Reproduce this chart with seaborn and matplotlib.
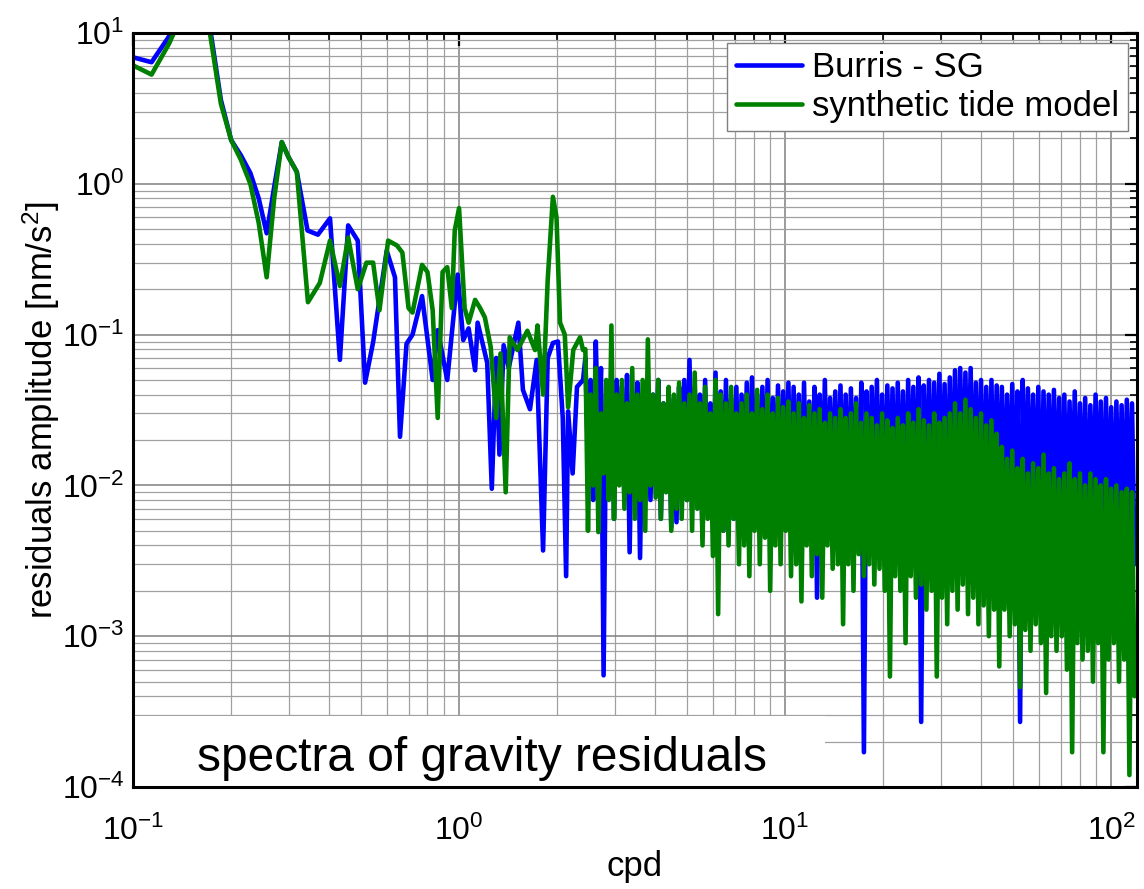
import numpy as np
import pandas as pd
import matplotlib
matplotlib.use("Agg")
import matplotlib.pyplot as plt
import seaborn as sns
from matplotlib.patches import Rectangle
from matplotlib.ticker import LogLocator, NullFormatter

# ---------------- data ----------------
# low-frequency part: individual spectral lines (cpd, nm/s^2)
blue_low_f = [0.100, 0.114, 0.129, 0.143, 0.157, 0.171, 0.186, 0.200, 0.214, 0.229,
              0.243, 0.257, 0.271, 0.286, 0.300, 0.318, 0.343, 0.369, 0.402, 0.431,
              0.457, 0.489, 0.515, 0.545, 0.600, 0.636, 0.659, 0.690, 0.720, 0.770,
              0.830, 0.860, 0.920, 0.990, 1.03, 1.07, 1.12, 1.14, 1.22, 1.26,
              1.30, 1.33, 1.37, 1.42, 1.52, 1.57, 1.65, 1.73, 1.81, 1.87,
              1.94, 2.01, 2.08, 2.13, 2.16, 2.23, 2.30, 2.40]
blue_low_a = [6.9, 6.4, 9.5, 16, 17, 12, 3.6, 1.95, 1.55, 1.18,
              0.8, 0.47, 0.95, 1.89, 1.5, 1.2, 0.49, 0.46, 0.59, 0.068,
              0.53, 0.42, 0.048, 0.089, 0.36, 0.24, 0.021, 0.087, 0.10, 0.18,
              0.05, 0.107, 0.05, 0.25, 0.092, 0.11, 0.058, 0.12, 0.065, 0.0095,
              0.07, 0.016, 0.085, 0.06, 0.12, 0.043, 0.032, 0.068, 0.0037, 0.07,
              0.088, 0.09, 0.028, 0.0025, 0.031, 0.012, 0.045, 0.05]

green_low_f = [0.100, 0.114, 0.129, 0.143, 0.157, 0.171, 0.186, 0.200, 0.214, 0.229,
               0.243, 0.257, 0.271, 0.286, 0.300, 0.318, 0.344, 0.374, 0.402, 0.431,
               0.457, 0.489, 0.520, 0.545, 0.570, 0.606, 0.645, 0.670, 0.700, 0.720,
               0.770, 0.800, 0.830, 0.860, 0.890, 0.920, 0.950, 0.970, 1.00, 1.04,
               1.07, 1.12, 1.16, 1.20, 1.25, 1.30, 1.34, 1.39, 1.43, 1.51,
               1.62, 1.71, 1.74, 1.81, 1.87, 1.94, 1.99, 2.04, 2.11, 2.16,
               2.24, 2.35, 2.40]
green_low_a = [6.1, 5.3, 8.5, 14, 16, 11, 3.4, 1.95, 1.45, 1.0,
               0.55, 0.24, 0.8, 1.89, 1.5, 1.2, 0.164, 0.22, 0.42, 0.21,
               0.44, 0.20, 0.30, 0.30, 0.145, 0.42, 0.39, 0.35, 0.15, 0.14,
               0.29, 0.26, 0.145, 0.028, 0.26, 0.28, 0.15, 0.49, 0.69, 0.15,
               0.12, 0.17, 0.15, 0.13, 0.083, 0.028, 0.075, 0.009, 0.096, 0.079,
               0.106, 0.079, 0.115, 0.04, 0.23, 0.82, 0.6, 0.12, 0.10, 0.033,
               0.079, 0.096, 0.079]

# high-frequency part (2.44 - 118 cpd): alternating local maxima / minima
dense_start, dense_stop = 2.44, 118.0
blue_peak = [0.07, 0.05, 0.09, 0.06, 0.04, 0.057, 0.05, 0.045, 0.054, 0.04,
             0.048, 0.035, 0.045, 0.04, 0.05, 0.035, 0.042, 0.038, 0.045, 0.05,
             0.068, 0.045, 0.04, 0.05, 0.035, 0.056, 0.042, 0.05, 0.038, 0.045,
             0.04, 0.048, 0.052, 0.04, 0.045, 0.05, 0.038, 0.046, 0.042, 0.048,
             0.045, 0.04, 0.048, 0.036, 0.045, 0.04, 0.05, 0.038, 0.042, 0.046,
             0.04, 0.044, 0.038, 0.048, 0.042, 0.045, 0.05, 0.04, 0.046, 0.044,
             0.048, 0.042, 0.05, 0.045, 0.052, 0.046, 0.05, 0.048, 0.055, 0.047,
             0.052, 0.058, 0.06, 0.056, 0.06, 0.048, 0.05, 0.045, 0.05, 0.046,
             0.045, 0.04, 0.047, 0.042, 0.05, 0.044, 0.04, 0.045, 0.042, 0.04,
             0.043, 0.038, 0.04, 0.036, 0.042, 0.035, 0.038, 0.034, 0.04, 0.036,
             0.038, 0.033, 0.036, 0.034, 0.037, 0.035]
blue_trough = [0.015, 0.008, 0.02, 0.00055, 0.01, 0.006, 0.012, 0.008, 0.0036, 0.01,
               0.0033, 0.012, 0.008, 0.01, 0.006, 0.012, 0.0053, 0.0057, 0.01, 0.008,
               0.007, 0.01, 0.0046, 0.008, 0.006, 0.007, 0.005, 0.008, 0.006, 0.007,
               0.006, 0.0053, 0.008, 0.006, 0.007, 0.005, 0.007, 0.006, 0.008, 0.006,
               0.007, 0.005, 0.006, 0.0045, 0.0018, 0.006, 0.005, 0.007, 0.005, 0.006,
               0.005, 0.006, 0.004, 0.00017, 0.005, 0.006, 0.004, 0.005, 0.006, 0.004,
               0.005, 0.004, 0.006, 0.005, 0.00027, 0.005, 0.004, 0.005, 0.006, 0.004,
               0.005, 0.004, 0.005, 0.006, 0.004, 0.005, 0.004, 0.005, 0.004, 0.005,
               0.004, 0.005, 0.004, 0.00027, 0.004, 0.005, 0.004, 0.003, 0.004, 0.005,
               0.004, 0.003, 0.004, 0.005, 0.003, 0.004, 0.003, 0.004, 0.005, 0.003,
               0.004, 0.003, 0.004, 0.003, 0.004, 0.003]
green_peak = [0.08, 0.04, 0.06, 0.03, 0.05, 0.115, 0.04, 0.05, 0.035, 0.06,
              0.04, 0.05, 0.093, 0.04, 0.05, 0.035, 0.045, 0.04, 0.048, 0.035,
              0.04, 0.056, 0.035, 0.045, 0.03, 0.05, 0.04, 0.035, 0.045, 0.03,
              0.035, 0.04, 0.03, 0.043, 0.032, 0.04, 0.03, 0.038, 0.033, 0.036,
              0.03, 0.035, 0.028, 0.034, 0.03, 0.032, 0.026, 0.03, 0.028, 0.032,
              0.028, 0.03, 0.035, 0.026, 0.03, 0.028, 0.025, 0.03, 0.027, 0.024,
              0.028, 0.025, 0.03, 0.026, 0.032, 0.027, 0.025, 0.03, 0.026, 0.028,
              0.03, 0.035, 0.03, 0.037, 0.032, 0.028, 0.03, 0.025, 0.027, 0.022,
              0.018, 0.015, 0.017, 0.013, 0.015, 0.012, 0.014, 0.013, 0.016, 0.012,
              0.013, 0.011, 0.012, 0.014, 0.011, 0.012, 0.01, 0.012, 0.011, 0.01,
              0.011, 0.0095, 0.01, 0.009, 0.0095, 0.009]
green_trough = [0.005, 0.01, 0.0049, 0.012, 0.008, 0.006, 0.01, 0.007, 0.009, 0.006,
                0.008, 0.005, 0.01, 0.0083, 0.006, 0.009, 0.005, 0.007, 0.006, 0.008,
                0.005, 0.007, 0.004, 0.006, 0.0034, 0.0014, 0.005, 0.004, 0.006, 0.003,
                0.004, 0.0025, 0.005, 0.003, 0.0045, 0.002, 0.004, 0.003, 0.005, 0.0025,
                0.003, 0.0017, 0.004, 0.0025, 0.0035, 0.0018, 0.004, 0.0028, 0.003, 0.0012,
                0.003, 0.002, 0.0035, 0.0025, 0.003, 0.0022, 0.0028, 0.002, 0.00054, 0.0025,
                0.002, 0.0009, 0.0025, 0.0018, 0.0022, 0.0015, 0.002, 0.00054, 0.0018, 0.0012,
                0.002, 0.0015, 0.0022, 0.0014, 0.0018, 0.0012, 0.0016, 0.001, 0.0015, 0.00063,
                0.0015, 0.001, 0.0012, 0.00046, 0.0011, 0.0008, 0.0012, 0.0009, 0.00042, 0.001,
                0.0008, 0.001, 0.0006, 0.00017, 0.0009, 0.0007, 0.0008, 0.0005, 0.0009, 0.00017,
                0.0007, 0.0009, 0.0005, 0.0007, 0.00012, 0.0004]

series_names = ["Burris - SG", "synthetic tide model"]
series_colors = ["#0000ff", "#008000"]
x_label = "cpd"
y_label = "residuals amplitude [nm/s$^2$]"
note_text = "spectra of gravity residuals"


def interleave(peaks, troughs):
    out = np.empty(2 * len(peaks))
    out[0::2] = peaks
    out[1::2] = troughs
    return out


dense_f = np.geomspace(dense_start, dense_stop, 2 * len(blue_peak))

blue_f = np.concatenate([blue_low_f, dense_f])
blue_a = np.concatenate([blue_low_a, interleave(blue_peak, blue_trough)])
green_f = np.concatenate([green_low_f, dense_f])
green_a = np.concatenate([green_low_a, interleave(green_peak, green_trough)])

df = pd.concat([
    pd.DataFrame({"cpd": blue_f, "amp": blue_a, "series": series_names[0]}),
    pd.DataFrame({"cpd": green_f, "amp": green_a, "series": series_names[1]}),
], ignore_index=True)

# ---------------- figure ----------------
sns.set_style("white")
plt.rcParams["font.family"] = ["Liberation Sans", "DejaVu Sans"]
plt.rcParams["mathtext.fontset"] = "custom"
plt.rcParams["mathtext.rm"] = "Liberation Sans"
plt.rcParams["mathtext.it"] = "Liberation Sans"
plt.rcParams["mathtext.default"] = "regular"
for key in ["text.color", "axes.labelcolor", "xtick.color", "ytick.color"]:
    plt.rcParams[key] = "black"

fig = plt.figure(figsize=(11.44, 8.89), dpi=100)
ax = fig.add_axes([133 / 1144, 102 / 889, 1004 / 1144, 754 / 889])

sns.lineplot(data=df, x="cpd", y="amp", hue="series",
             palette=dict(zip(series_names, series_colors)),
             estimator=None, sort=False, linewidth=3.3, ax=ax)

ax.set_xscale("log")
ax.set_yscale("log")
ax.set_xlim(0.1, 120)
ax.set_ylim(1e-4, 10)

ax.xaxis.set_major_locator(LogLocator(base=10, numticks=20))
ax.yaxis.set_major_locator(LogLocator(base=10, numticks=20))
ax.xaxis.set_minor_locator(LogLocator(base=10, subs=np.arange(2, 10), numticks=100))
ax.yaxis.set_minor_locator(LogLocator(base=10, subs=np.arange(2, 10), numticks=100))
ax.xaxis.set_minor_formatter(NullFormatter())
ax.yaxis.set_minor_formatter(NullFormatter())

ax.grid(True, which="major", color="#808080", lw=1.1)
ax.grid(True, which="minor", color="#a0a0a0", lw=0.9)
ax.set_axisbelow(True)

ax.tick_params(which="both", direction="in", top=True, right=True, color="black")
ax.tick_params(which="major", length=9, width=1.6, labelsize=23)
ax.tick_params(which="minor", length=5, width=1.2)
ax.tick_params(axis="x", which="major", pad=21)
ax.tick_params(axis="y", which="major", pad=6)
for s in ax.spines.values():
    s.set_color("black")
    s.set_linewidth(2.2)

ax.set_xlabel(x_label, fontsize=25, labelpad=2)
ax.set_ylabel(y_label, fontsize=25, labelpad=0)

# white note box at the bottom-left
ax.add_patch(Rectangle((0, 0), 0.689, 0.094, transform=ax.transAxes,
                       facecolor="white", edgecolor="none", zorder=1.8))
ax.text(0.064, 0.038, note_text, transform=ax.transAxes, fontsize=34.5,
        va="center", ha="left", zorder=3)

leg = ax.legend(loc="upper right", bbox_to_anchor=(0.991, 0.987), borderaxespad=0,
                fontsize=25, handlelength=1.9, handletextpad=0.3,
                labelspacing=0.15, borderpad=0.25, fancybox=False, framealpha=1,
                edgecolor="#7f7f7f", title=None)
leg.get_frame().set_linewidth(1.0)
for ln in leg.get_lines():
    ln.set_linewidth(3.3)

fig.savefig("out.png", dpi=100)
